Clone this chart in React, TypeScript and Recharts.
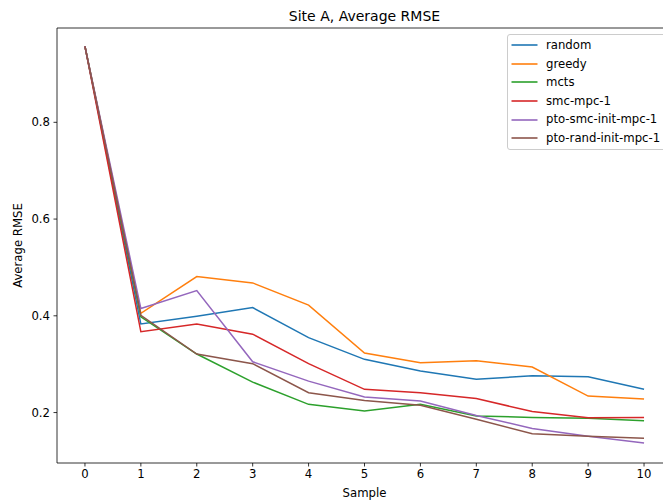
import React from 'react';
import { LineChart, Line, XAxis, YAxis, Label, ReferenceLine } from 'recharts';

const samples = [0, 1, 2, 3, 4, 5, 6, 7, 8, 9, 10];
const random = [0.957, 0.383, 0.399, 0.417, 0.355, 0.310, 0.286, 0.269, 0.276, 0.274, 0.248];
const greedy = [0.957, 0.405, 0.481, 0.468, 0.422, 0.323, 0.303, 0.307, 0.294, 0.234, 0.228];
const mcts = [0.957, 0.398, 0.321, 0.263, 0.217, 0.203, 0.217, 0.193, 0.190, 0.188, 0.183];
const smcMpc1 = [0.957, 0.367, 0.383, 0.362, 0.301, 0.248, 0.241, 0.229, 0.202, 0.189, 0.190];
const ptoSmcInitMpc1 = [0.957, 0.415, 0.452, 0.305, 0.265, 0.232, 0.224, 0.194, 0.167, 0.151, 0.137];
const ptoRandInitMpc1 = [0.957, 0.401, 0.321, 0.301, 0.241, 0.225, 0.215, 0.186, 0.156, 0.151, 0.147];

const yTicks = [0.2, 0.4, 0.6, 0.8];
const xTicks = samples;
const yDomain = [0.0957, 0.995];

const series = [
  { key: 'random', values: random, color: '#1f77b4' },
  { key: 'greedy', values: greedy, color: '#ff7f0e' },
  { key: 'mcts', values: mcts, color: '#2ca02c' },
  { key: 'smc-mpc-1', values: smcMpc1, color: '#d62728' },
  { key: 'pto-smc-init-mpc-1', values: ptoSmcInitMpc1, color: '#9467bd' },
  { key: 'pto-rand-init-mpc-1', values: ptoRandInitMpc1, color: '#8c564b' },
];

const data = samples.map((s, i) => {
  const row: Record<string, number> = { sample: s };
  series.forEach((sr) => {
    row[sr.key] = sr.values[i];
  });
  return row;
});

const FONT = 'DejaVu Sans, sans-serif';
const tickStyle = { fontSize: 11.7, fill: '#000', fontFamily: FONT };

const LegendBox = () => (
  <div
    style={{
      position: 'absolute',
      left: 507,
      top: 34,
      border: '1px solid #cccccc',
      borderRadius: 3,
      background: 'rgba(255,255,255,0.8)',
      padding: '1px 0',
      width: 165,
      boxSizing: 'border-box',
      fontFamily: FONT,
      fontSize: 11.7,
      zIndex: 3,
    }}
  >
    {series.map((s) => (
      <div key={s.key} style={{ display: 'flex', alignItems: 'center', height: 18.6 }}>
        <svg width={30} height={6} style={{ marginLeft: 3, display: 'block' }}>
          <line x1={0.5} y1={3} x2={26.5} y2={3} stroke={s.color} strokeWidth={1.6} />
        </svg>
        <span style={{ marginLeft: 5, color: '#000', whiteSpace: 'nowrap', lineHeight: '18.6px' }}>{s.key}</span>
      </div>
    ))}
  </div>
);

export default function App() {
  return (
    <div
      style={{
        position: 'fixed',
        left: 0,
        top: 0,
        width: 663,
        height: 501,
        overflow: 'hidden',
        background: '#fff',
      }}
    >
      <svg style={{ position: 'absolute', left: 0, top: 0, pointerEvents: 'none', zIndex: 2 }} width={663} height={30}>
        <text x={364.5} y={21} textAnchor="middle" fontFamily={FONT} fontSize={14} fill="#000">
          Site A, Average RMSE
        </text>
      </svg>
      <LineChart
        width={680}
        height={501}
        data={data}
        margin={{ top: 28, right: 8, bottom: 0, left: 0 }}
        style={{ fontFamily: FONT }}
      >
        <XAxis
          dataKey="sample"
          type="number"
          domain={[-0.5, 10.5]}
          ticks={xTicks}
          interval={0}
          allowDataOverflow
          height={38}
          tickSize={3.5}
          tickMargin={3.5}
          tick={tickStyle}
          stroke="#000"
          strokeWidth={0.8}
        >
          <Label
            content={(p: any) => {
              const vb = p.viewBox;
              return (
                <text
                  x={vb.x + vb.width / 2}
                  y={497}
                  textAnchor="middle"
                  fontFamily={FONT}
                  fontSize={11.7}
                  fill="#000"
                >
                  Sample
                </text>
              );
            }}
          />
        </XAxis>
        <YAxis
          type="number"
          domain={yDomain}
          ticks={yTicks}
          allowDataOverflow
          width={57}
          tickSize={3.5}
          tickMargin={3.5}
          tick={tickStyle}
          stroke="#000"
          strokeWidth={0.8}
        >
          <Label
            content={(p: any) => {
              const vb = p.viewBox;
              const cy = vb.y + vb.height / 2;
              return (
                <text
                  x={22}
                  y={cy}
                  textAnchor="middle"
                  transform={`rotate(-90, 22, ${cy})`}
                  fontFamily={FONT}
                  fontSize={11.7}
                  fill="#000"
                >
                  Average RMSE
                </text>
              );
            }}
          />
        </YAxis>
        <ReferenceLine y={yDomain[1]} stroke="#000" strokeWidth={0.8} />
        {series.map((s) => (
          <Line
            key={s.key}
            type="linear"
            dataKey={s.key}
            name={s.key}
            stroke={s.color}
            strokeWidth={1.5}
            dot={false}
            activeDot={false}
            isAnimationActive={false}
          />
        ))}
      </LineChart>
      <LegendBox />
    </div>
  );
}
